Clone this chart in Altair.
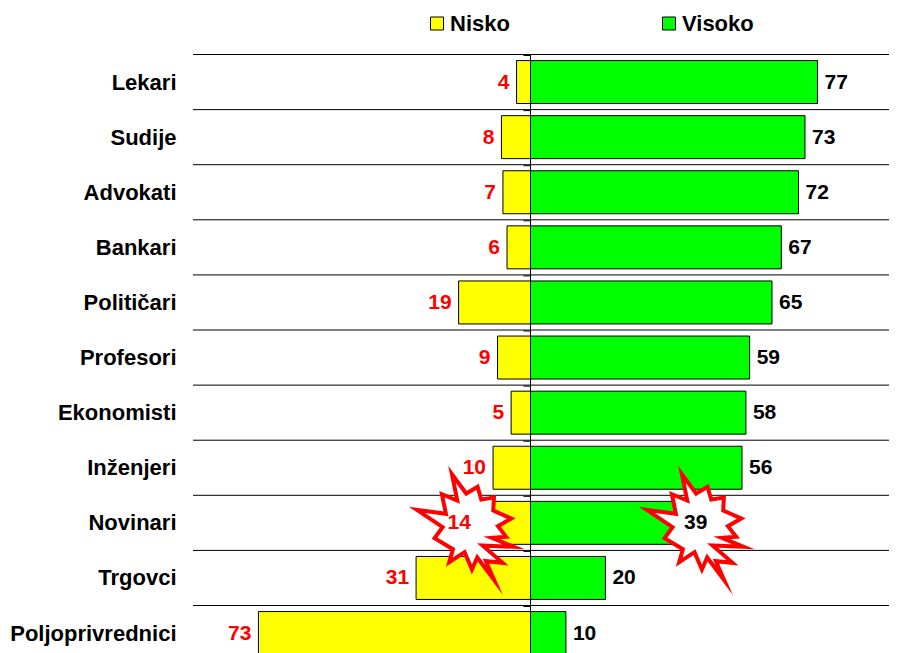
import altair as alt
import pandas as pd

categories = ["Lekari", "Sudije", "Advokati", "Bankari", "Političari", "Profesori",
              "Ekonomisti", "Inženjeri", "Novinari", "Trgovci", "Poljoprivrednici"]
nisko_labels = [4, 8, 7, 6, 19, 9, 5, 10, 14, 31, 73]
visoko_labels = [77, 73, 72, 67, 65, 59, 58, 56, 39, 20, 10]
nisko_bars = [3.75, 7.8, 7.4, 6.3, 19.3, 8.85, 5.2, 10.05, 14.1, 30.7, 73]
visoko_bars = [77, 73.65, 71.9, 67.3, 64.8, 58.8, 57.8, 56.75, 39.3, 20.1, 9.5]
series_names = ["Nisko", "Visoko"]
series_colors = ["#ffff00", "#00ff00"]
star_cat = ["Novinari", "Novinari"]
star_x = [-18.4, 43.3]
star_pts = [(140, 44), (183, 102), (217, 82), (228, 120), (266, 114), (264, 153), (318, 177),
            (278, 200), (303, 232), (260, 235), (325, 262), (232, 258), (292, 310), (242, 305),
            (267, 362), (216, 294), (200, 330), (178, 278), (132, 308), (143, 269), (88, 236),
            (112, 203), (35, 151), (122, 163), (110, 104), (156, 123)]
star_path = "M" + " L".join(f"{(x - 170) / 100:.2f},{(y - 190) / 100:.2f}" for x, y in star_pts) + " Z"

FONT = "Liberation Sans"
W, H = 696, 598.5
x_scale = alt.Scale(domain=[-90.56, 96.19], nice=False, zero=False)
y_scale = alt.Scale(domain=categories, range=[0, 606.1], paddingInner=0.22, paddingOuter=0.11)
y_axis = alt.Axis(title=None, domain=False, ticks=False, labelPadding=17, labelFont=FONT,
                  labelFontWeight="bold", labelFontSize=22, labelColor="#000000",
                  labelLimit=400, grid=False, labelOffset=0.5)

df = pd.DataFrame({
    "cat": categories * 2,
    "series": ["Nisko"] * 11 + ["Visoko"] * 11,
    "val": [-v for v in nisko_bars] + visoko_bars,
    "label": nisko_labels + visoko_labels,
    "zero": [0] * 22,
})
base = alt.Chart(df)
Y = alt.Y("cat:N", scale=y_scale, sort=categories, axis=y_axis)
X = alt.X("val:Q", scale=x_scale, axis=None)

cat_df = pd.DataFrame({"cat": categories, "tick_start": [-1.9] * 11, "tick_end": [0] * 11})
grid = alt.Chart(cat_df).mark_rule(color="#000000", strokeWidth=1, yOffset=-6.05).encode(
    y=alt.Y("cat:N", scale=y_scale, sort=categories, bandPosition=0, axis=y_axis),
    x=alt.value(0), x2=alt.value(W))

ticks = alt.Chart(cat_df).mark_rule(color="#000000", strokeWidth=1, yOffset=-5.05).encode(
    y=alt.Y("cat:N", scale=y_scale, sort=categories, bandPosition=0, axis=y_axis),
    x=alt.X("tick_start:Q", scale=x_scale, axis=None), x2=alt.X2("tick_end:Q"))

bars = base.mark_bar(stroke="#000000", strokeWidth=1, clip=True).encode(
    y=Y, x=X, x2=alt.X2("zero:Q"),
    fill=alt.Fill("series:N", scale=alt.Scale(domain=series_names, range=series_colors),
                  legend=alt.Legend(title=None, orient="none", legendX=233, legendY=-42, direction="horizontal",
                                    columns=2, columnPadding=148, padding=0, symbolType="square", symbolSize=169,
                                    symbolStrokeColor="#000000", symbolStrokeWidth=1,
                                    labelFont=FONT, labelFontWeight="bold", labelFontSize=22,
                                    labelColor="#000000", labelOffset=2, labelLimit=200)))

center = alt.Chart(pd.DataFrame({"z": [0]})).mark_rule(color="#000000", strokeWidth=1).encode(
    x=alt.X("z:Q", scale=x_scale, axis=None))

stars = alt.Chart(pd.DataFrame({"cat": star_cat, "x": star_x})).mark_point(
    shape=star_path, size=4444, filled=True, fill="#ffffff", stroke="#ff0000", strokeWidth=4, opacity=1,
    strokeOpacity=1, fillOpacity=1, strokeJoin="miter", strokeMiterLimit=30).encode(
    x=alt.X("x:Q", scale=x_scale, axis=None),
    y=Y)

low = df[df.series == "Nisko"]
high = df[df.series == "Visoko"]
low_text = alt.Chart(low).mark_text(font=FONT, fontWeight="bold", fontSize=21, color="#ff0000", align="right",
                                    baseline="middle", dx=-7, dy=0.5, clip=True).encode(
    x=X, y=Y, text="label:Q")
high_text = alt.Chart(high).mark_text(font=FONT, fontWeight="bold", fontSize=21, color="#000000", align="left",
                                      baseline="middle", dx=7, dy=0.5, clip=True).encode(
    x=X, y=Y, text="label:Q")

chart = alt.layer(grid, ticks, bars, center, stars, low_text, high_text).properties(
    width=W, height=H,
    autosize=alt.AutoSizeParams(type="none"),
    padding={"left": 185, "top": 46.5, "right": 0, "bottom": 0},
).configure_view(stroke=None)

chart.save("out.html", embed_options={"renderer": "svg", "actions": False})
